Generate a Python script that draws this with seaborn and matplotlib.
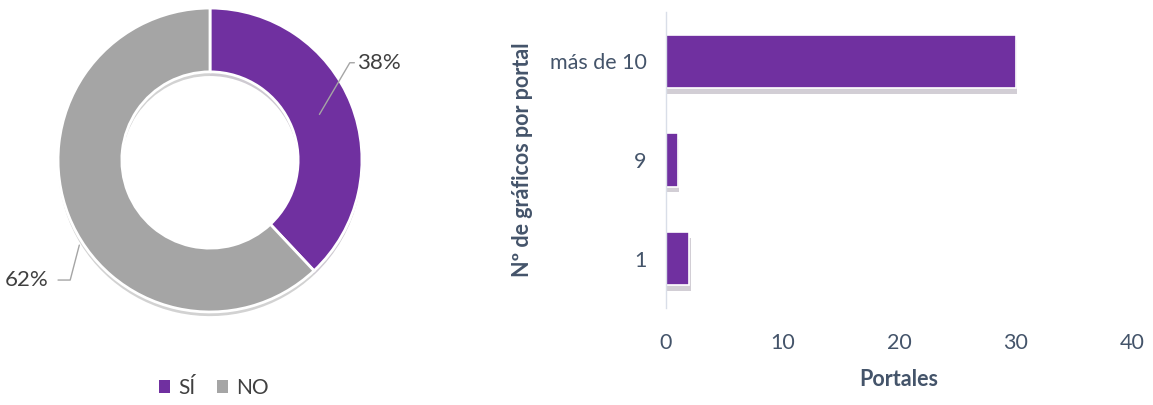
#!/usr/bin/python3

import matplotlib
matplotlib.use('Agg')
import matplotlib.pyplot as plt
import matplotlib.patheffects as pe
from matplotlib.patches import Patch
import seaborn as sns

# donut data
pie_labels = ['SÍ', 'NO']
pie_values = [38, 62]
pie_colors = ['#7030A0', '#A5A5A5']

# bar data
bar_categories = ['más de 10', '9', '1']
bar_values = [30, 1, 2]
bar_color = '#7030A0'
x_ticks = [0, 10, 20, 30, 40]

text_color = '#44546A'
label_color = '#404040'


def main():
	sns.set_theme(style='white')
	plt.rcParams['font.family'] = ['Lato', 'DejaVu Sans']

	fig = plt.figure(figsize=(11.53, 4.05), dpi=100)

	# Donut
	ax1 = fig.add_axes([55 / 1153, 90 / 405, 310 / 1153, 310 / 405])
	wedges, _ = ax1.pie(pie_values, colors=pie_colors, startangle=90, counterclock=False,
		radius=1, wedgeprops=dict(width=0.42, edgecolor='white', linewidth=2))
	for w in wedges:
		w.set_path_effects([pe.SimplePatchShadow(offset=(0, -3), alpha=0.22), pe.Normal()])
	ax1.set_xlim(-1.02, 1.02)
	ax1.set_ylim(-1.02, 1.02)
	ax1.set_aspect('equal')
	ax1.axis('off')

	# leader lines and labels
	ax1.plot([0.72, 0.92, 0.95], [0.30, 0.64, 0.64], color='#A5A5A5', lw=1, clip_on=False)
	ax1.text(0.97, 0.64, str(pie_values[0]) + '%', ha='left', va='center',
		fontsize=16, color=label_color, clip_on=False)
	ax1.plot([-0.86, -0.92, -1.0], [-0.56, -0.79, -0.79], color='#A5A5A5', lw=1, clip_on=False)
	ax1.text(-1.06, -0.79, str(pie_values[1]) + '%', ha='right', va='center',
		fontsize=16, color=label_color, clip_on=False)

	handles = [Patch(facecolor=c, edgecolor='none') for c in pie_colors]
	fig.legend(handles, pie_labels, loc='center', bbox_to_anchor=(214 / 1153, 1 - 388 / 405),
		ncol=2, frameon=False, fontsize=15, handlelength=0.55, handleheight=0.55,
		handletextpad=0.4, columnspacing=1.0, labelcolor=label_color)

	# Bars
	ax2 = fig.add_axes([666 / 1153, 97 / 405, 466 / 1153, 296 / 405])
	sns.barplot(x=bar_values, y=bar_categories, orient='h', color=bar_color,
		width=0.54, saturation=1, edgecolor='white', linewidth=1.2, ax=ax2)
	for p in ax2.patches:
		p.set_path_effects([pe.SimplePatchShadow(offset=(1, -4), alpha=0.2), pe.Normal()])
	ax2.set_xlim(0, 40)
	ax2.set_ylim(2.5, -0.5)
	ax2.set_xticks(x_ticks)
	ax2.tick_params(axis='x', length=0, pad=18, labelsize=15.5, labelcolor=text_color)
	ax2.tick_params(axis='y', length=0, pad=14, labelsize=15.5, labelcolor=text_color)
	for s in ['top', 'right', 'bottom']:
		ax2.spines[s].set_visible(False)
	ax2.spines['left'].set_color('#D9DEE8')
	ax2.spines['left'].set_linewidth(1)
	ax2.set_xlabel('Portales', fontsize=15.5, fontweight='bold', color=text_color)
	ax2.set_ylabel('Nº de gráficos por portal', fontsize=15.5, fontweight='bold', color=text_color)
	ax2.xaxis.set_label_coords(0.5, -0.206)
	ax2.yaxis.set_label_coords(-0.285, 0.5)

	plt.savefig('out.png', dpi=100)


if __name__ == '__main__':
	main()
